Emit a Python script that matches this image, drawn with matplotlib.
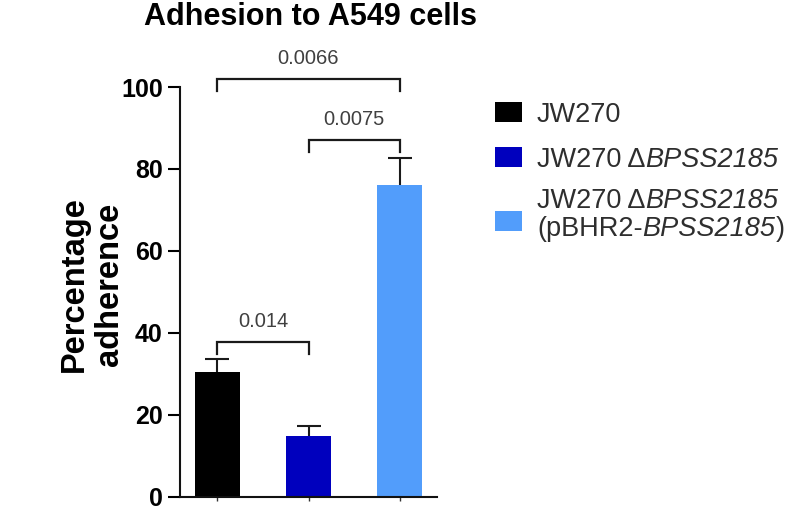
import matplotlib
matplotlib.use('Agg')
import matplotlib.pyplot as plt
from matplotlib.patches import Rectangle

plt.rcParams['font.family'] = ['Liberation Sans', 'DejaVu Sans']

# ---- data ----
groups = ['JW270', 'JW270 ΔBPSS2185', 'JW270 ΔBPSS2185 (pBHR2-BPSS2185)']
legend_parts = [
    [[('JW270', 'normal')]],
    [[('JW270 Δ', 'normal'), ('BPSS2185', 'italic')]],
    [[('JW270 Δ', 'normal'), ('BPSS2185', 'italic')],
     [('(pBHR2-', 'normal'), ('BPSS2185', 'italic'), (')', 'normal')]],
]
means = [30.6, 15.0, 76.2]
errors = [3.0, 2.3, 6.5]
colors = ['#000000', '#0000BE', '#529DFB']
comp_left = [0, 1, 0]
comp_right = [1, 2, 2]
comp_labels = ['0.014', '0.0075', '0.0066']
comp_heights = [37.8, 87.1, 102.0]
yticks = [0, 20, 40, 60, 80, 100]

W, H = 791, 507
fig = plt.figure(figsize=(W / 100, H / 100), dpi=100)
ax = fig.add_axes([180 / W, 10 / H, 257 / W, 410 / H])

x = list(range(len(groups)))
ax.bar(x, means, width=0.495, color=colors, zorder=2)
# upper-only error bars (GraphPad style)
tops = [m + e for m, e in zip(means, errors)]
ax.errorbar(x, means, yerr=[[0] * len(means), errors], fmt='none',
            ecolor='#1a1a1a', elinewidth=1.5, capsize=0, zorder=1)
ax.plot(x, tops, ls='none', marker='_', markersize=16.6, mew=1.5,
        color='#1a1a1a', zorder=3)

ax.set_xlim(-0.412, 2.412)
ax.set_ylim(0, 100)
ax.set_yticks(yticks)
ax.set_yticklabels([str(t) for t in yticks], fontsize=18, fontweight='bold')
ax.set_xticks(x)
ax.set_xticklabels([])
ax.tick_params(axis='y', length=8.5, width=1.5, pad=4, colors='black')
ax.tick_params(axis='x', length=3, width=1.0, colors='#333333')
for s in ['top', 'right']:
    ax.spines[s].set_visible(False)
for s in ['left', 'bottom']:
    ax.spines[s].set_linewidth(1.5)
    ax.spines[s].set_color('#111111')

# significance brackets
drop = 3.0
for i, j, lab, y in zip(comp_left, comp_right, comp_labels, comp_heights):
    ax.plot([i, i, j, j], [y - drop, y, y, y - drop], color='#1a1a1a', lw=1.6,
            clip_on=False, solid_joinstyle='miter')
    ax.text((i + j) / 2, y + 4.9, lab, ha='center', va='center', fontsize=14.5,
            color='#404040', clip_on=False)

# title
fig.text(311 / W, 1 - 25 / H, 'Adhesion to A549 cells', ha='center', va='baseline',
         fontsize=22, fontweight='bold', color='black')

# y label
fig.text(92 / W, 1 - 284 / H, 'Percentage\nadherence', rotation=90, ha='center',
         va='center', multialignment='center', fontsize=23.5, fontweight='bold',
         color='black')

# legend
renderer = fig.canvas.get_renderer()


def rich_line(x_px, base_px, parts, fontsize, color):
    cur = x_px
    for txt, style in parts:
        t = fig.text(cur / W, 1 - base_px / H, txt, ha='left', va='baseline',
                     fontsize=fontsize, style=style, color=color)
        cur = t.get_window_extent(renderer).x1


square_tops = [102, 147, 211]
line_baselines = [[122], [167], [208, 236]]
for col, top, lines, bases in zip(colors, square_tops, legend_parts, line_baselines):
    fig.add_artist(Rectangle((495 / W, 1 - (top + 20) / H), 27 / W, 20 / H,
                             transform=fig.transFigure, facecolor=col,
                             edgecolor='none'))
    for parts, b in zip(lines, bases):
        rich_line(537, b, parts, 19.5, '#2e2e2e')

fig.savefig('out.png', dpi=100)
